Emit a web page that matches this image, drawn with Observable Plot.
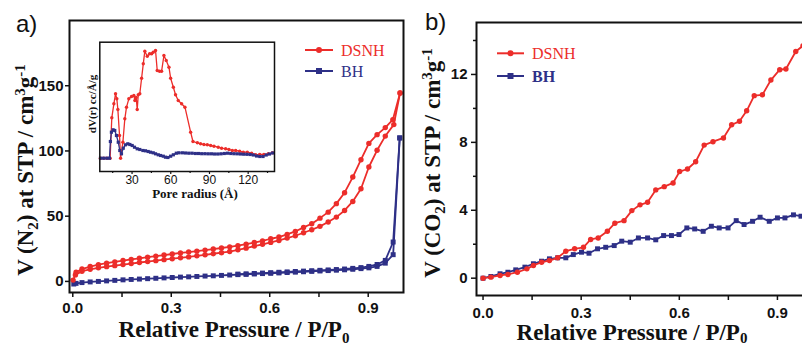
<!DOCTYPE html>
<html><head><meta charset="utf-8">
<script src="https://cdn.jsdelivr.net/npm/d3@7"></script>
<script src="https://cdn.jsdelivr.net/npm/@observablehq/plot@0.6"></script>
<style>
html,body{margin:0;padding:0;background:#fff;overflow:hidden;}
#fig{position:relative;width:802px;height:346px;overflow:hidden;background:#fff;}
#fig svg{position:absolute;}
</style></head>
<body><div id="fig"></div>
<script>
// ---------- Panel a: N2 isotherms ----------
const dsnhAdsP = [0.001,0.008,0.028,0.053,0.078,0.103,0.128,0.153,0.178,0.203,0.228,0.253,0.278,0.303,0.328,0.353,0.378,0.403,0.428,0.453,0.478,0.503,0.528,0.553,0.578,0.603,0.628,0.653,0.678,0.703,0.728,0.753,0.778,0.803,0.828,0.853,0.878,0.902,0.927,0.952,0.978,0.997];
const dsnhAdsV = [1,5,7.8,9.3,10.4,11.3,12.1,12.9,13.7,14.5,15.2,15.9,16.7,17.4,18.1,18.8,19.6,20.4,21.2,22,22.9,24.2,25.5,27.1,28.4,29.9,31.4,33.2,35,37.3,39.6,42.2,45.5,49.3,54.4,61.3,71,87.7,100.5,111.4,120.2,144.4];
const dsnhDesP = [0.997,0.975,0.952,0.927,0.902,0.878,0.853,0.828,0.803,0.778,0.753,0.728,0.703,0.678,0.653,0.628,0.603,0.578,0.553,0.528,0.503,0.478,0.453,0.428,0.403,0.378,0.353,0.328,0.303,0.278,0.253,0.228,0.203,0.178,0.153,0.128,0.103,0.078,0.053,0.028,0.01];
const dsnhDesV = [144.4,124,117.9,112.5,105.8,93.3,80,68,59.6,53.1,48.5,44.2,41.4,38.3,36,34,32.7,31,29.8,28.5,27.4,26.5,25.6,24.8,24,23.2,22.5,21.8,21,20.2,19.4,18.6,17.7,16.9,16,15,14,12.8,11.4,9.5,7];
const bhAdsP = [0.003,0.01,0.028,0.053,0.078,0.103,0.128,0.153,0.178,0.203,0.228,0.253,0.278,0.303,0.328,0.353,0.378,0.403,0.428,0.453,0.478,0.503,0.528,0.553,0.578,0.603,0.628,0.653,0.678,0.703,0.728,0.753,0.778,0.803,0.828,0.853,0.878,0.902,0.927,0.952,0.976,0.996];
const bhAdsV = [-2,-1.5,-0.9,-0.4,0,0.4,0.8,1.2,1.5,1.8,2.1,2.4,2.7,3,3.3,3.5,3.8,4.1,4.3,4.6,4.9,5.2,5.4,5.7,6,6.2,6.5,6.8,7.1,7.4,7.7,8,8.3,8.6,8.9,9.3,9.8,10.4,11.5,14,20.5,110];
const bhDesP = [0.996,0.976,0.952,0.927,0.902,0.878,0.853,0.828,0.803,0.778,0.753,0.728,0.703,0.678,0.653,0.628,0.603,0.578,0.553,0.528,0.503];
const bhDesV = [110,30.2,16.1,13,11.5,10.6,10,9.5,9.1,8.8,8.5,8.2,7.9,7.6,7.3,7,6.7,6.4,6.1,5.8,5.6];
const aXTicks = [0, 0.3, 0.6, 0.9];
const aXMinor = [0.15, 0.45, 0.75];
const aYTicks = [0, 50, 100, 150];

// ---------- Inset: pore size distribution ----------
const insRedR = [5.5,8,10.5,13,14.3,15.9,17.2,18.2,19,20.3,21.1,22.9,24.4,25.7,27.5,29.6,31.4,32.2,33.2,34,34.8,36,37.4,38.7,39.9,41.8,43.6,45.2,46.4,48.2,49.5,51.3,52.9,54.7,56.5,58.6,59.9,62,63.7,65.8,68.4,71,75.4,77.2,80.6,83.1,85.7,88.3,90.9,93.5,96.8,99.4,102.5,105.1,107.7,110.3,113.4,116.2,119.3,122.7,125.8,128.9,132.2,135.6,138.8];
const insRedV = [13.3,13.3,13.3,13.3,53.7,67.7,77.7,72.7,62,36,13.3,29.3,52.7,64.3,72.7,75,76,71,74,62,76.7,77.7,93.3,107.7,120.3,115.3,117.7,117.7,119.3,121,101,100.3,100.3,116,111,104.3,93.3,84.3,76.7,71,67.7,64.3,39.3,30,28.7,27.7,27,26.7,26,25.3,24.3,23.3,22.7,22,21,21,20.3,19.3,19.3,18.3,16.7,17,17,17.7,18.7];
const insBlueR = [5.5,8,10.5,12.5,13.2,14,15.3,16.6,17.9,19.3,20.5,21.8,23.2,24.9,26.7,28.3,30.1,31.9,34,36,38.4,40.4,42.5,44.3,46.4,48.2,50.3,52.1,54.2,55.9,57.8,59.9,62,64.3,66.3,69,71.5,74,76.5,79,81.5,84,86.5,89,91.5,94,96.5,99,101.5,104,106.5,109,111.5,114,116.5,119,121.5,124,126.5,129,131.5,134,136.5,139];
const insBlueV = [13.3,13.3,13.3,13.3,30,39.3,41.7,41,36,29.3,21,17.7,23.3,26.7,27.7,27,26,24.3,22.7,22,21,20.7,20,19.3,18.7,17.7,16.7,16,15.3,14.3,14,15.3,16.7,18.3,18.7,18.7,18.5,18.3,18.3,18,18,17.8,17.8,17.7,17.7,17.5,17.5,17.7,18,18.3,18,17.8,17.7,17.5,17.3,17.2,17,16.5,15.5,15,15,16.5,17.5,18.5];
const insXTicks = [30, 60, 90, 120];
const insXMinor = [15, 45, 75, 105, 135];

// ---------- Panel b: CO2 isotherms ----------
const dsnhCo2P = [0,0.024,0.052,0.076,0.105,0.134,0.154,0.179,0.203,0.228,0.253,0.28,0.307,0.329,0.352,0.38,0.403,0.431,0.455,0.48,0.503,0.528,0.554,0.581,0.601,0.625,0.65,0.676,0.703,0.735,0.76,0.784,0.806,0.829,0.854,0.88,0.907,0.926,0.956,0.978,1.0];
const dsnhCo2V = [0,0.06,0.16,0.22,0.35,0.55,0.75,0.94,1.04,1.2,1.59,1.73,1.82,2.28,2.37,2.76,3.24,3.39,3.98,4.32,4.47,5.2,5.39,5.61,6.28,6.43,6.86,7.84,8.04,8.26,9.04,9.24,9.86,10.75,10.8,11.67,12.28,12.32,13.35,13.69,14.2];
const bhCo2P = [0,0.024,0.052,0.076,0.1,0.128,0.154,0.179,0.203,0.228,0.253,0.276,0.301,0.324,0.35,0.375,0.401,0.424,0.45,0.475,0.503,0.528,0.552,0.576,0.599,0.623,0.647,0.673,0.698,0.722,0.749,0.774,0.798,0.824,0.847,0.875,0.9,0.923,0.949,0.972,0.998];
const bhCo2V = [0,0.1,0.26,0.35,0.49,0.65,0.85,1.0,1.14,1.2,1.2,1.39,1.53,1.47,1.73,1.82,1.92,2.18,2.12,2.37,2.37,2.26,2.51,2.51,2.57,2.96,2.9,2.76,3.06,2.96,2.96,3.39,3.16,3.35,3.59,3.35,3.55,3.55,3.73,3.65,3.7];
const bXTicks = [0, 0.3, 0.6, 0.9];
const bXMinor = [0.15, 0.45, 0.75];
const bYTicks = [0, 4, 8, 12];
const bYMinor = [2, 6, 10, 14];

const seriesNames = ["DSNH", "BH"];
const RED = "#ec2d2a", BLUE = "#2e3087", INK = "#111";
const SANS = "'Liberation Sans', Arial, sans-serif";
const SERIF = "'Liberation Serif', 'Times New Roman', serif";

const zip = (xs, ys) => xs.map((x, i) => ({x, y: ys[i]}));
const fig = document.getElementById("fig");

function place(el, left, top) { el.style.left = left + "px"; el.style.top = top + "px"; fig.appendChild(el); }

// Panel a
const aAds = zip(dsnhAdsP, dsnhAdsV), aDes = zip(dsnhDesP, dsnhDesV);
const aBhA = zip(bhAdsP, bhAdsV), aBhD = zip(bhDesP, bhDesV);
const A = Plot.plot({
  width: 410, height: 346, marginLeft: 69, marginRight: 7, marginTop: 20, marginBottom: 54,
  style: {background: "transparent", fontFamily: SANS, fontSize: "15px", fontWeight: "bold", color: INK},
  x: {domain: [-0.01, 1.0075]},
  y: {domain: [-8.5, 200]},
  marks: [
    Plot.line(aBhA, {x: "x", y: "y", stroke: BLUE, strokeWidth: 1.8}),
    Plot.line(aBhD, {x: "x", y: "y", stroke: BLUE, strokeWidth: 1.8}),
    Plot.dot(aBhA, {x: "x", y: "y", fill: BLUE, symbol: "square", r: 2.8}),
    Plot.dot(aBhD, {x: "x", y: "y", fill: BLUE, symbol: "square", r: 2.8}),
    Plot.line(aAds, {x: "x", y: "y", stroke: RED, strokeWidth: 1.8}),
    Plot.line(aDes, {x: "x", y: "y", stroke: RED, strokeWidth: 1.8}),
    Plot.dot(aAds, {x: "x", y: "y", fill: RED, r: 2.7}),
    Plot.dot(aDes, {x: "x", y: "y", fill: RED, r: 2.7}),
    Plot.axisX({ticks: aXTicks, tickFormat: ".1f", tickSize: 5, tickPadding: 5, label: null, strokeWidth: 1.5}),
    Plot.axisX({ticks: aXMinor, tickFormat: () => "", tickSize: 5, label: null, strokeWidth: 1.5}),
    Plot.axisY({ticks: aYTicks, tickSize: 4, tickPadding: 2, label: null, strokeWidth: 1.5}),
    Plot.frame({stroke: INK, strokeWidth: 2})
  ]
});
place(A, 0, 0);

// Inset
const iRed = zip(insRedR, insRedV), iBlue = zip(insBlueR, insBlueV);
const I = Plot.plot({
  width: 200, height: 156, marginLeft: 19.3, marginRight: 6, marginTop: 6.7, marginBottom: 20,
  style: {background: "transparent", fontFamily: SANS, fontSize: "12px", color: INK},
  x: {domain: [5, 140.4]},
  y: {domain: [0, 129.3], axis: null},
  marks: [
    Plot.line(iRed, {x: "x", y: "y", stroke: RED, strokeWidth: 1.3}),
    Plot.dot(iRed, {x: "x", y: "y", fill: RED, r: 1.7}),
    Plot.line(iBlue, {x: "x", y: "y", stroke: BLUE, strokeWidth: 1.3}),
    Plot.dot(iBlue, {x: "x", y: "y", fill: BLUE, symbol: "square", r: 1.8}),
    Plot.axisX({ticks: insXTicks, tickSize: 3, tickPadding: 1, label: null, strokeWidth: 1.2}),
    Plot.axisX({ticks: insXMinor, tickFormat: () => "", tickSize: 2, label: null, strokeWidth: 1.2}),
    Plot.frame({stroke: INK, strokeWidth: 1.5})
  ]
});
place(I, 80, 35);

// Panel b
const bD = zip(dsnhCo2P, dsnhCo2V), bB = zip(bhCo2P, bhCo2V);
const B = Plot.plot({
  width: 434, height: 346, marginLeft: 76, marginRight: 8, marginTop: 22, marginBottom: 51,
  style: {background: "transparent", fontFamily: SANS, fontSize: "15px", fontWeight: "bold", color: INK},
  x: {domain: [-0.02, 1.05]},
  y: {domain: [-1.02, 15.06]},
  marks: [
    Plot.line(bB, {x: "x", y: "y", stroke: BLUE, strokeWidth: 1.8}),
    Plot.dot(bB, {x: "x", y: "y", fill: BLUE, symbol: "square", r: 2.8}),
    Plot.line(bD, {x: "x", y: "y", stroke: RED, strokeWidth: 1.8}),
    Plot.dot(bD, {x: "x", y: "y", fill: RED, r: 2.7}),
    Plot.axisX({ticks: bXTicks, tickFormat: ".1f", tickSize: 5, tickPadding: 7, label: null, strokeWidth: 1.5}),
    Plot.axisX({ticks: bXMinor, tickFormat: () => "", tickSize: 5, label: null, strokeWidth: 1.5}),
    Plot.axisY({ticks: bYTicks, tickSize: 5, tickPadding: 4, label: null, strokeWidth: 1.5}),
    Plot.axisY({ticks: bYMinor, tickFormat: () => "", tickSize: 3, label: null, strokeWidth: 1.5}),
    Plot.frame({stroke: INK, strokeWidth: 2})
  ]
});
place(B, 400, 0);

// Text overlay: titles, panel letters, legends
const NS = "http://www.w3.org/2000/svg";
const ov = document.createElementNS(NS, "svg");
ov.setAttribute("width", 802); ov.setAttribute("height", 346);
ov.innerHTML = `
<g font-family="${SANS}" font-size="24" fill="${INK}">
  <text x="16" y="32">a)</text>
  <text x="425" y="30">b)</text>
</g>
<g font-family="${SERIF}" font-weight="bold" fill="${INK}" font-size="23">
  <text transform="translate(33,170) rotate(-90)" text-anchor="middle">V (N<tspan font-size="15" baseline-shift="-5">2</tspan>) at STP / cm<tspan font-size="15" baseline-shift="8">3</tspan>g<tspan font-size="15" baseline-shift="8">-1</tspan></text>
  <text transform="translate(440,163) rotate(-90)" text-anchor="middle">V (CO<tspan font-size="15" baseline-shift="-5">2</tspan>) at STP / cm<tspan font-size="15" baseline-shift="8">3</tspan>g<tspan font-size="15" baseline-shift="8">-1</tspan></text>
  <text x="234" y="337" text-anchor="middle">Relative Pressure / P/P<tspan font-size="15" baseline-shift="-6">0</tspan></text>
  <text x="632" y="339.5" text-anchor="middle">Relative Pressure / P/P<tspan font-size="15" baseline-shift="-3">0</tspan></text>
  <text x="195" y="198" text-anchor="middle" font-size="13">Pore radius (Å)</text>
  <text transform="translate(96,104) rotate(-90)" text-anchor="middle" font-size="11">dV(r) cc/Å/g</text>
</g>
<g font-family="${SERIF}" font-size="16">
  <line x1="305" x2="333" y1="50" y2="50" stroke="${RED}" stroke-width="2"/><circle cx="319" cy="50" r="3" fill="${RED}"/>
  <text x="341" y="55.5" fill="${RED}">${seriesNames[0]}</text>
  <line x1="305" x2="333" y1="71" y2="71" stroke="${BLUE}" stroke-width="2"/><rect x="316" y="68" width="6" height="6" fill="${BLUE}"/>
  <text x="341" y="76.5" fill="${BLUE}">${seriesNames[1]}</text>
  <line x1="497" x2="524" y1="53.3" y2="53.3" stroke="${RED}" stroke-width="2"/><circle cx="510.5" cy="53.3" r="3" fill="${RED}"/>
  <text x="532" y="59" fill="${RED}">${seriesNames[0]}</text>
  <line x1="497" x2="524" y1="76" y2="76" stroke="${BLUE}" stroke-width="2"/><rect x="507.5" y="73" width="6" height="6" fill="${BLUE}"/>
  <text x="532" y="81.5" fill="${BLUE}" font-weight="bold">${seriesNames[1]}</text>
</g>`;
place(ov, 0, 0);
</script>
</body></html>
